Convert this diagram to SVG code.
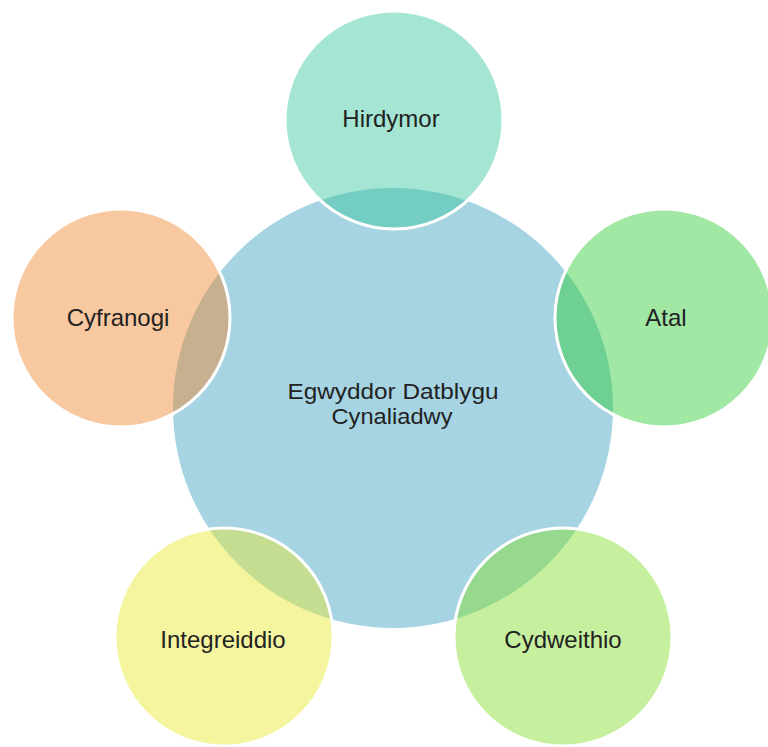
<svg xmlns="http://www.w3.org/2000/svg" width="768" height="747" viewBox="0 0 768 747">
<style>
  .lbl { font-family: "Liberation Sans", Arial, sans-serif; font-size: 24px; fill: #222222; text-anchor: middle; }
  .mid { font-size: 22px; }
  .sat { stroke: #ffffff; stroke-width: 3; fill-opacity: 0.45; }
</style>
<rect width="768" height="747" fill="#ffffff"/>
<g id="center">
  <circle cx="393" cy="408" r="220" fill="#a6d4e2"/>
  <text class="lbl mid" x="393" y="399" textLength="211" lengthAdjust="spacingAndGlyphs">Egwyddor Datblygu</text>
  <text class="lbl mid" x="392" y="424" textLength="121" lengthAdjust="spacingAndGlyphs">Cynaliadwy</text>
</g>
<g id="hirdymor">
  <circle class="sat" cx="394" cy="120" r="109" fill="#35c69e"/>
  <text class="lbl" x="391" y="127">Hirdymor</text>
</g>
<g id="atal">
  <circle class="sat" cx="664" cy="318" r="109" fill="#2ccc35"/>
  <text class="lbl" x="666" y="326">Atal</text>
</g>
<g id="cydweithio">
  <circle class="sat" cx="563" cy="637" r="109" fill="#80de27"/>
  <text class="lbl" x="563" y="648">Cydweithio</text>
</g>
<g id="integreiddio">
  <circle class="sat" cx="224" cy="637" r="109" fill="#e9e92c"/>
  <text class="lbl" x="223" y="648">Integreiddio</text>
</g>
<g id="cyfranogi">
  <circle class="sat" cx="121" cy="318" r="109" fill="#f0852c"/>
  <text class="lbl" x="118" y="326">Cyfranogi</text>
</g>
<g id="connectors"/>
</svg>
